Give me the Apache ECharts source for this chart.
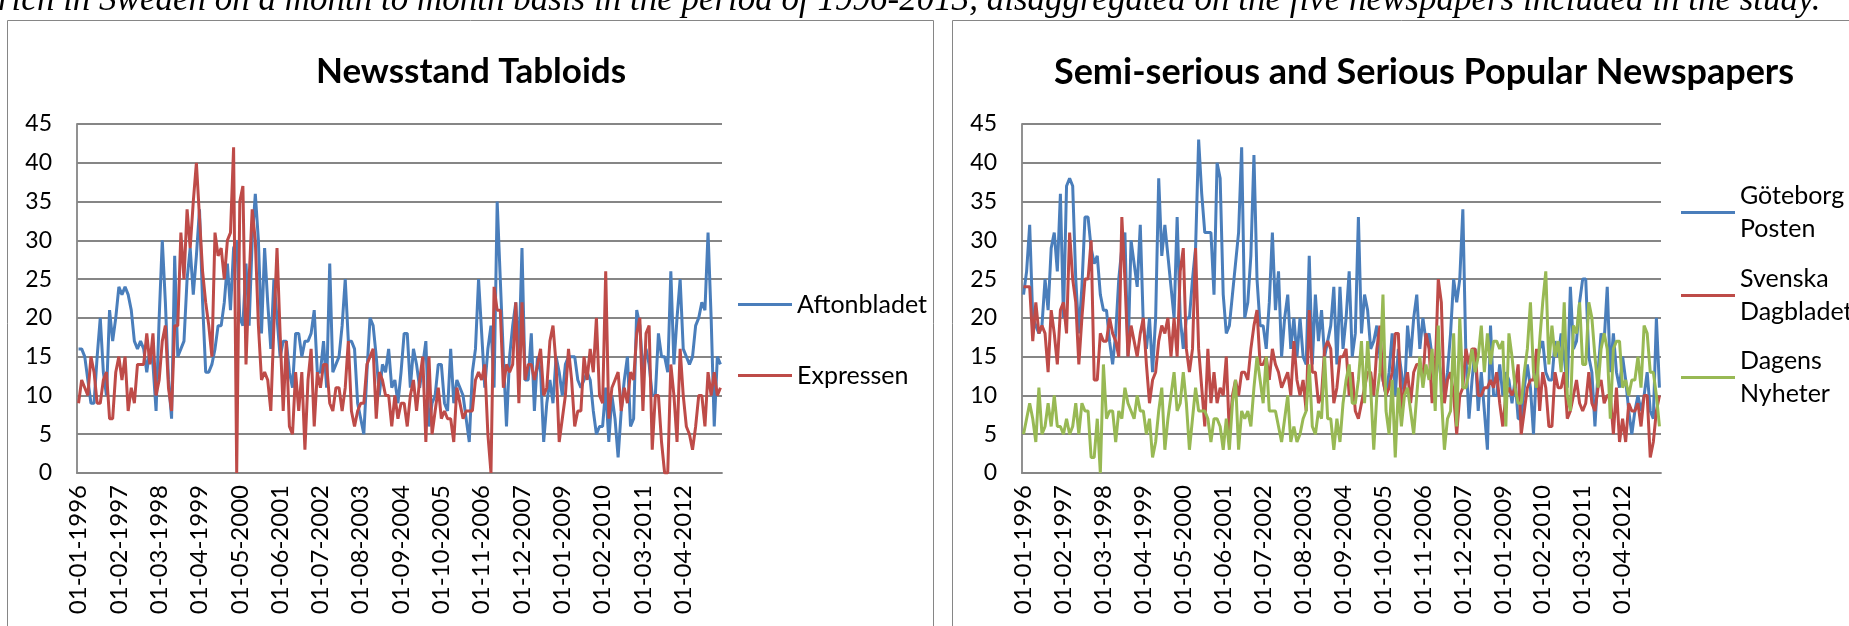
<!DOCTYPE html>
<html>
<head>
<meta charset="utf-8">
<script src="https://cdn.jsdelivr.net/npm/echarts@6/dist/echarts.min.js"></script>
<style>
  html, body { margin: 0; padding: 0; background: #fff; }
  #main { width: 1849px; height: 626px; }
</style>
</head>
<body>
<div id="main"></div>
<script>
// monthly counts, Jan 1996 onwards (208 months)
const aftonbladet = [
  16, 16, 15, 12, 9, 9, 15, 20, 13, 10,
  21, 17, 20, 24, 23, 24, 23, 21, 17, 16,
  17, 16, 13, 16, 14, 8, 20, 30, 22, 12,
  7, 28, 15, 16, 17, 25, 29, 23, 28, 34,
  22, 13, 13, 14, 16, 19, 19, 22, 27, 21,
  29, 30, 20, 19, 27, 19, 30, 36, 30, 18,
  29, 22, 16, 25, 20, 15, 17, 17, 13, 11,
  18, 18, 15, 17, 17, 18, 21, 13, 13, 17,
  11, 27, 13, 14, 15, 19, 25, 17, 17, 16,
  9, 7, 5, 13, 20, 19, 15, 10, 14, 13,
  16, 11, 12, 9, 13, 18, 18, 11, 16, 14,
  11, 14, 17, 6, 9, 10, 14, 14, 9, 8,
  16, 9, 12, 11, 10, 7, 4, 13, 16, 25,
  18, 11, 16, 19, 11, 35, 25, 15, 6, 15,
  19, 22, 15, 29, 12, 12, 18, 8, 15, 13,
  4, 9, 12, 9, 15, 13, 10, 14, 15, 15,
  15, 12, 11, 12, 13, 12, 8, 5, 6, 6,
  11, 4, 10, 7, 2, 8, 12, 15, 6, 7,
  21, 19, 13, 16, 14, 10, 10, 18, 15, 15,
  13, 26, 14, 20, 25, 16, 15, 14, 15, 19,
  20, 22, 21, 31, 20, 6, 15, 14
]
const expressen = [
  9, 12, 11, 10, 15, 13, 9, 9, 12, 13,
  7, 7, 13, 15, 12, 15, 8, 11, 9, 14,
  14, 14, 18, 14, 18, 10, 12, 17, 19, 11,
  8, 19, 19, 31, 25, 34, 29, 35, 40, 33,
  26, 22, 19, 15, 31, 28, 29, 25, 30, 31,
  42, 0, 35, 37, 14, 25, 34, 30, 19, 12,
  13, 12, 8, 19, 29, 18, 8, 17, 6, 5,
  13, 8, 13, 3, 12, 16, 6, 13, 11, 14,
  14, 9, 8, 11, 11, 8, 11, 17, 8, 6,
  8, 9, 9, 14, 15, 16, 7, 13, 12, 10,
  10, 6, 10, 7, 9, 9, 6, 10, 12, 8,
  12, 15, 4, 15, 5, 8, 11, 7, 8, 7,
  7, 4, 11, 9, 7, 8, 8, 8, 12, 13,
  12, 14, 5, 0, 24, 21, 21, 11, 14, 13,
  14, 22, 9, 22, 12, 14, 14, 12, 14, 16,
  10, 11, 17, 19, 14, 4, 7, 10, 16, 12,
  6, 8, 8, 15, 12, 16, 13, 20, 10, 9,
  26, 7, 11, 12, 13, 8, 11, 9, 13, 12,
  18, 20, 8, 18, 19, 3, 10, 10, 4, 0,
  0, 14, 10, 4, 16, 10, 6, 5, 3, 6,
  10, 10, 6, 13, 10, 13, 10, 11
]
const goteborgsPosten = [
  23, 26, 32, 20, 19, 18, 19, 25, 21, 29,
  31, 26, 36, 20, 37, 38, 37, 25, 18, 24,
  33, 33, 29, 27, 28, 23, 21, 21, 17, 14,
  18, 25, 29, 31, 15, 30, 27, 24, 32, 19,
  16, 20, 13, 20, 38, 28, 32, 28, 24, 20,
  33, 20, 16, 20, 20, 25, 29, 43, 36, 31,
  31, 31, 23, 40, 38, 23, 18, 19, 23, 27,
  31, 42, 20, 22, 28, 41, 25, 19, 19, 16,
  22, 31, 21, 26, 15, 20, 23, 16, 20, 15,
  20, 15, 14, 28, 14, 23, 17, 21, 15, 17,
  19, 24, 14, 24, 16, 20, 26, 15, 18, 33,
  18, 23, 21, 16, 17, 19, 15, 12, 10, 13,
  18, 10, 16, 13, 10, 19, 15, 20, 23, 16,
  20, 17, 18, 15, 13, 15, 12, 10, 13, 18,
  25, 22, 25, 34, 15, 7, 12, 16, 8, 13,
  8, 3, 19, 10, 10, 14, 10, 13, 12, 9,
  12, 7, 7, 11, 14, 11, 5, 14, 16, 17,
  13, 12, 12, 17, 15, 18, 15, 11, 24, 16,
  17, 22, 25, 25, 15, 13, 6, 13, 18, 17,
  24, 13, 18, 13, 11, 15, 12, 8, 5, 8,
  10, 8, 10, 13, 8, 7, 20, 11
]
const svenskaDagbladet = [
  24, 24, 24, 17, 22, 18, 19, 18, 13, 21,
  18, 14, 21, 22, 18, 31, 25, 22, 14, 20,
  25, 25, 30, 12, 12, 18, 17, 17, 20, 18,
  17, 15, 33, 25, 15, 19, 17, 15, 18, 20,
  14, 9, 12, 13, 17, 19, 18, 20, 15, 20,
  15, 26, 29, 16, 13, 16, 29, 16, 11, 6,
  16, 9, 13, 9, 11, 10, 15, 5, 10, 12,
  10, 13, 13, 12, 16, 19, 21, 14, 14, 15,
  12, 16, 14, 13, 11, 12, 13, 10, 17, 12,
  10, 12, 8, 21, 13, 13, 9, 10, 16, 17,
  16, 9, 11, 15, 15, 16, 10, 13, 8, 7,
  9, 11, 13, 13, 10, 16, 19, 12, 10, 11,
  13, 18, 18, 8, 11, 13, 9, 13, 14, 14,
  12, 18, 16, 9, 13, 25, 22, 9, 12, 13,
  10, 5, 10, 11, 16, 14, 16, 16, 10, 10,
  11, 11, 12, 11, 13, 9, 6, 10, 11, 10,
  11, 14, 5, 8, 11, 12, 12, 16, 8, 13,
  11, 6, 6, 13, 11, 11, 13, 7, 8, 10,
  12, 9, 8, 9, 13, 9, 8, 11, 12, 9,
  10, 10, 5, 11, 4, 7, 4, 9, 8, 8,
  9, 6, 10, 10, 2, 4, 8, 10
]
const dagensNyheter = [
  5, 7, 9, 7, 4, 11, 5, 6, 9, 6,
  10, 6, 6, 5, 7, 5, 6, 9, 5, 9,
  8, 8, 2, 2, 7, 0, 14, 7, 8, 8,
  4, 8, 7, 11, 9, 8, 7, 10, 8, 8,
  5, 7, 2, 4, 8, 11, 3, 7, 10, 13,
  8, 9, 13, 9, 3, 7, 11, 8, 8, 8,
  7, 4, 7, 7, 6, 3, 7, 3, 9, 12,
  3, 8, 7, 8, 6, 11, 15, 12, 9, 15,
  8, 8, 8, 6, 4, 7, 10, 4, 6, 4,
  5, 7, 8, 14, 6, 5, 8, 7, 15, 7,
  7, 3, 7, 4, 9, 12, 14, 9, 9, 12,
  17, 9, 17, 11, 3, 10, 13, 23, 8, 5,
  12, 2, 11, 6, 10, 11, 8, 5, 10, 15,
  11, 14, 12, 16, 8, 19, 10, 3, 7, 8,
  18, 6, 20, 11, 11, 13, 16, 13, 15, 19,
  13, 18, 14, 17, 17, 16, 17, 6, 18, 15,
  11, 9, 9, 13, 16, 22, 13, 11, 17, 22,
  26, 14, 19, 15, 17, 13, 22, 10, 8, 19,
  18, 22, 14, 14, 22, 20, 15, 11, 16, 18,
  16, 7, 16, 17, 17, 11, 12, 10, 12, 12,
  15, 11, 19, 18, 13, 13, 10, 6
]

// category labels: 01-MM-YYYY, one per month
const months = []
for (let i = 0; i < aftonbladet.length; i++) {
  const m = (i % 12) + 1
  months.push('01-' + (m < 10 ? '0' + m : m) + '-' + (1996 + Math.floor(i / 12)))
}

const blue = '#4a7ebb'
const red = '#be4b48'
const green = '#98b954'
const gray = '#868686'
const font = 'Lato'

function xAxis(gridIndex) {
  return {
    type: 'category',
    gridIndex: gridIndex,
    data: months,
    boundaryGap: true,
    axisLine: { lineStyle: { color: gray, width: 1.8 } },
    axisTick: { show: false },
    axisLabel: {
      interval: 12,
      rotate: 90,
      margin: 12,
      color: '#000',
      fontSize: 24,
      fontFamily: font
    }
  }
}

function yAxis(gridIndex) {
  return {
    type: 'value',
    gridIndex: gridIndex,
    min: 0,
    max: 45,
    interval: 5,
    axisLine: { show: true, lineStyle: { color: gray, width: 1.8 } },
    axisTick: { show: false },
    splitLine: { lineStyle: { color: gray, width: 1.8 } },
    axisLabel: { margin: 25, color: '#000', fontSize: 23, fontFamily: font }
  }
}

function lineSeries(name, data, color, idx) {
  return {
    name: name,
    type: 'line',
    xAxisIndex: idx,
    yAxisIndex: idx,
    data: data,
    symbol: 'none',
    lineStyle: { width: 3, color: color },
    itemStyle: { color: color },
    emphasis: { disabled: true }
  }
}

// one legend per entry so each can sit where the original has it
function legendItem(name, left, top, twoLines) {
  return {
    data: [name],
    left: left,
    top: top,
    orient: 'vertical',
    padding: 0,
    icon: 'rect',
    itemWidth: 54,
    itemHeight: 3,
    itemStyle: { borderWidth: 0 },
    selectedMode: false,
    textStyle: {
      color: '#000',
      fontSize: 25,
      fontFamily: font,
      lineHeight: 33,
      padding: twoLines ? [33, 0, 0, 0] : 0
    }
  }
}

const chart = echarts.init(document.getElementById('main'), null, { renderer: 'canvas' })

chart.setOption({
  animation: false,
  backgroundColor: '#fff',
  graphic: [
    {
      type: 'text',
      left: -2,
      top: -17,
      style: {
        text: 'rich in Sweden on a month to month basis in the period of 1996-2013, disaggregated on the five newspapers included in the study.',
        fontFamily: 'Liberation Serif',
        fontStyle: 'italic',
        fontSize: 35,
        fill: '#000'
      }
    },
    {
      type: 'rect',
      shape: { x: 7.5, y: 20.5, width: 926, height: 700 },
      style: { fill: 'none', stroke: gray, lineWidth: 1 }
    },
    {
      type: 'rect',
      shape: { x: 952.5, y: 20.5, width: 926, height: 700 },
      style: { fill: 'none', stroke: gray, lineWidth: 1 }
    },
    {
      type: 'text',
      x: 471,
      y: 72,
      style: {
        text: 'Newsstand Tabloids',
        align: 'center',
        verticalAlign: 'middle',
        fontFamily: font,
        fontWeight: 'bold',
        fontSize: 35,
        fill: '#000'
      }
    },
    {
      type: 'text',
      x: 1424,
      y: 72,
      style: {
        text: 'Semi-serious and Serious Popular Newspapers',
        align: 'center',
        verticalAlign: 'middle',
        fontFamily: font,
        fontWeight: 'bold',
        fontSize: 36,
        fill: '#000'
      }
    }
  ],
  legend: [
    legendItem('Aftonbladet', 738, 288, false),
    legendItem('Expressen', 738, 359, false),
    legendItem('Göteborg\nPosten', 1681, 163, true),
    legendItem('Svenska\nDagbladet', 1681, 246, true),
    legendItem('Dagens\nNyheter', 1681, 328, true)
  ],
  grid: [
    { left: 77, top: 124, width: 645, height: 349 },
    { left: 1022, top: 124, width: 639, height: 349 }
  ],
  xAxis: [xAxis(0), xAxis(1)],
  yAxis: [yAxis(0), yAxis(1)],
  series: [
    lineSeries('Aftonbladet', aftonbladet, blue, 0),
    lineSeries('Expressen', expressen, red, 0),
    lineSeries('Göteborg\nPosten', goteborgsPosten, blue, 1),
    lineSeries('Svenska\nDagbladet', svenskaDagbladet, red, 1),
    lineSeries('Dagens\nNyheter', dagensNyheter, green, 1)
  ]
})
</script>
</body>
</html>
